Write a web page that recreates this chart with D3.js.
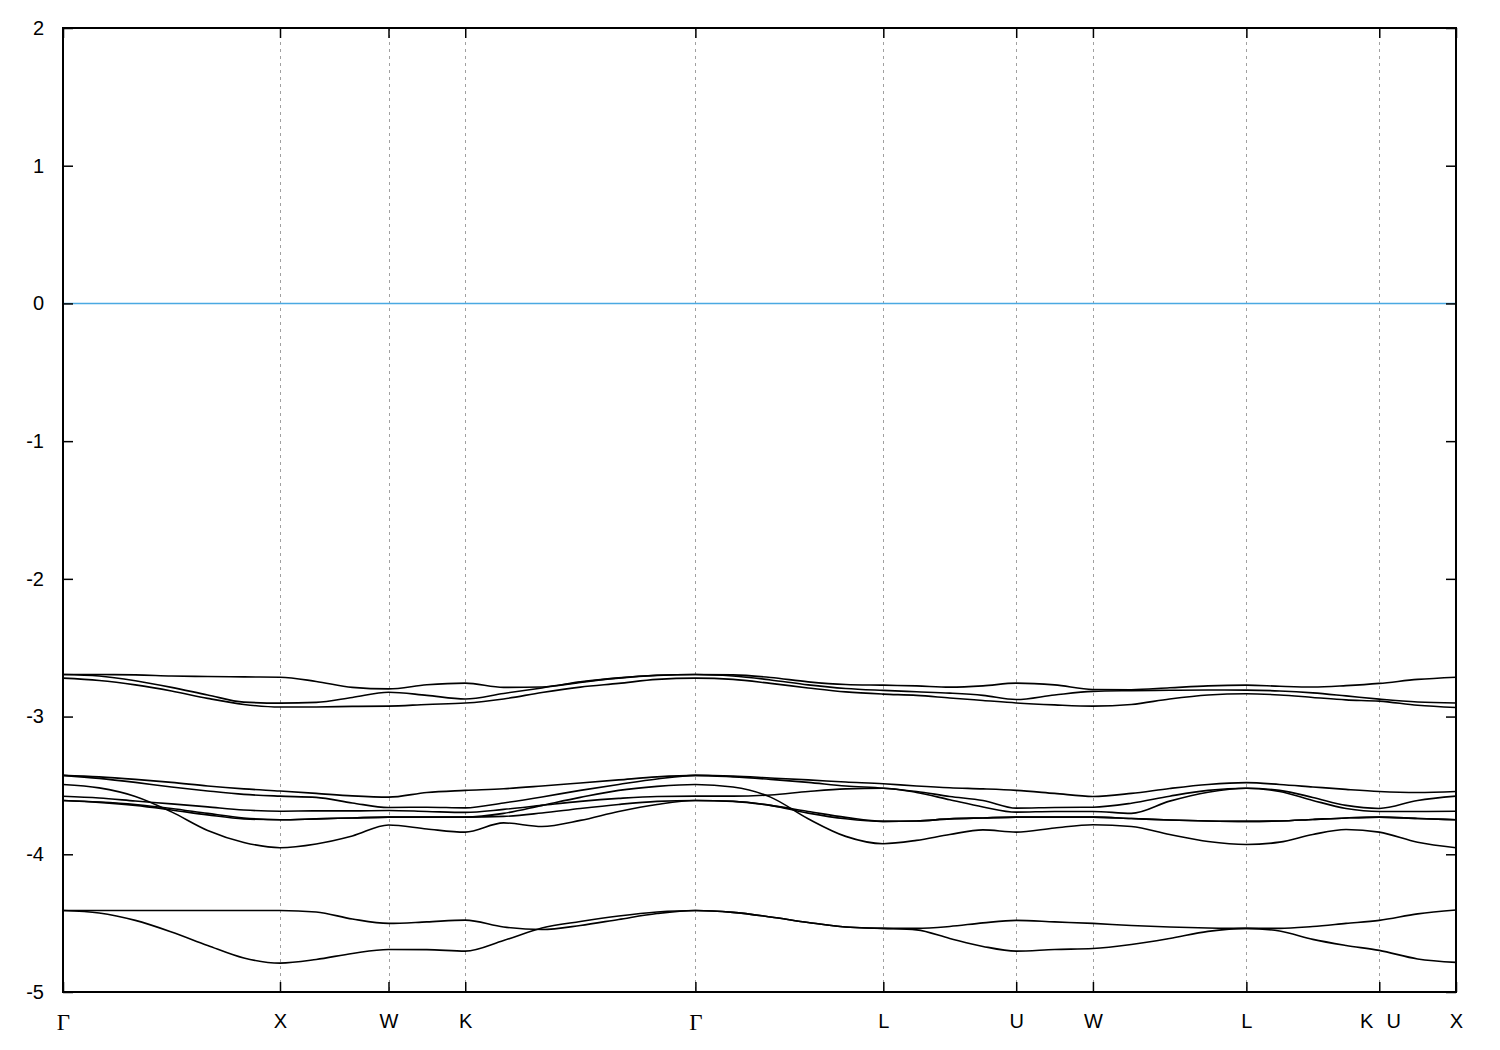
<!DOCTYPE html>
<html><head><meta charset="utf-8">
<script src="https://cdnjs.cloudflare.com/ajax/libs/d3/7.8.5/d3.min.js"></script>
<style>body{margin:0;background:#fff} svg{display:block}</style>
</head><body><svg id="c" width="1500" height="1050"></svg>
<script>
// High-symmetry path (FCC) and labels
const kPointLabels = ["Γ","X","W","K","Γ","L","U","W","L","K|U","X"];
const kPointPositions = [0, 1, 1.5, 1.8536, 2.9142, 3.7802, 4.3926, 4.7462, 5.4533, 6.0657, 6.4193];
// number of sample intervals read along each segment
const segmentSamples = [6, 3, 2, 6, 5, 4, 2, 4, 4, 2];
const yTicks = [-5, -4, -3, -2, -1, 0, 1, 2];
const fermiLevel = 0;

// Band energies (eV) read at the sample points along the path
const bandA1 = [-2.694,-2.695,-2.697,-2.705,-2.709,-2.712,-2.714, -2.745,-2.788,-2.799, -2.769,-2.757, -2.788,-2.785,-2.748,-2.719,-2.700,-2.694, -2.697,-2.716,-2.748,-2.767,-2.772, -2.777,-2.786,-2.777,-2.757, -2.770,-2.803, -2.805,-2.791,-2.777,-2.772, -2.780,-2.785,-2.775,-2.759, -2.730,-2.714];
const bandA2 = [-2.694,-2.705,-2.740,-2.788,-2.843,-2.895,-2.902, -2.897,-2.861,-2.823, -2.846,-2.872, -2.832,-2.792,-2.752,-2.721,-2.701,-2.694, -2.705,-2.734,-2.770,-2.796,-2.810, -2.820,-2.830,-2.846,-2.876, -2.843,-2.817, -2.812,-2.809,-2.807,-2.808, -2.814,-2.828,-2.850,-2.873, -2.894,-2.902];
const bandA3 = [-2.721,-2.738,-2.770,-2.814,-2.868,-2.912,-2.931, -2.930,-2.926,-2.924, -2.912,-2.902, -2.872,-2.825,-2.786,-2.759,-2.730,-2.721, -2.730,-2.759,-2.792,-2.821,-2.837, -2.846,-2.865,-2.883,-2.901, -2.915,-2.924, -2.912,-2.872,-2.843,-2.834, -2.843,-2.861,-2.879,-2.888, -2.918,-2.934];

const bandB1 = [-3.427,-3.438,-3.456,-3.478,-3.504,-3.525,-3.541, -3.558,-3.576,-3.585, -3.551,-3.536, -3.524,-3.504,-3.482,-3.460,-3.438,-3.427, -3.432,-3.446,-3.460,-3.475,-3.488, -3.504,-3.517,-3.525,-3.536, -3.558,-3.580, -3.558,-3.522,-3.493,-3.480, -3.493,-3.511,-3.529,-3.544, -3.551,-3.544];
const bandB2 = [-3.427,-3.449,-3.478,-3.511,-3.540,-3.565,-3.578, -3.587,-3.627,-3.660, -3.658,-3.663, -3.627,-3.584,-3.536,-3.493,-3.453,-3.427, -3.438,-3.456,-3.478,-3.504,-3.520, -3.544,-3.580,-3.609,-3.665, -3.660,-3.658, -3.629,-3.578,-3.536,-3.520, -3.536,-3.587,-3.645,-3.667, -3.609,-3.578];
const bandB3 = [-3.578,-3.591,-3.613,-3.634,-3.656,-3.678,-3.687, -3.685,-3.685,-3.682, -3.689,-3.696, -3.674,-3.645,-3.616,-3.594,-3.580,-3.578, -3.578,-3.569,-3.544,-3.525,-3.520, -3.551,-3.604,-3.656,-3.694, -3.689,-3.689, -3.703,-3.614,-3.549,-3.520, -3.544,-3.609,-3.667,-3.689, -3.689,-3.687];
const bandB4 = [-3.493,-3.518,-3.580,-3.692,-3.827,-3.914,-3.952, -3.925,-3.867,-3.787, -3.816,-3.839, -3.772,-3.798,-3.754,-3.689,-3.638,-3.609, -3.615,-3.645,-3.701,-3.742,-3.761, -3.758,-3.743,-3.736,-3.730, -3.730,-3.730, -3.740,-3.751,-3.758,-3.761, -3.758,-3.747,-3.736,-3.730, -3.740,-3.749];
const bandB5 = [-3.609,-3.620,-3.638,-3.667,-3.703,-3.736,-3.749, -3.743,-3.736,-3.730, -3.730,-3.730, -3.703,-3.645,-3.587,-3.536,-3.507,-3.493, -3.512,-3.585,-3.742,-3.870,-3.923, -3.899,-3.856,-3.823,-3.839, -3.809,-3.785, -3.798,-3.856,-3.907,-3.929, -3.912,-3.856,-3.820,-3.839, -3.912,-3.952];
const bandB6 = [-3.609,-3.623,-3.645,-3.678,-3.714,-3.743,-3.749, -3.743,-3.736,-3.730, -3.730,-3.730, -3.725,-3.700,-3.667,-3.638,-3.616,-3.609, -3.616,-3.645,-3.689,-3.732,-3.761, -3.758,-3.743,-3.736,-3.730, -3.730,-3.730, -3.740,-3.751,-3.758,-3.761, -3.758,-3.747,-3.736,-3.730, -3.740,-3.749];

const bandC1 = [-4.408,-4.408,-4.408,-4.408,-4.408,-4.408,-4.408, -4.419,-4.470,-4.502, -4.491,-4.478, -4.528,-4.546,-4.517,-4.473,-4.430,-4.408, -4.422,-4.455,-4.495,-4.528,-4.538, -4.538,-4.524,-4.498,-4.480, -4.491,-4.502, -4.517,-4.528,-4.535,-4.538, -4.538,-4.524,-4.502,-4.480, -4.433,-4.404];
const bandC2 = [-4.408,-4.426,-4.480,-4.564,-4.662,-4.753,-4.790, -4.764,-4.720,-4.691, -4.692,-4.703, -4.626,-4.535,-4.488,-4.448,-4.419,-4.408, -4.422,-4.455,-4.495,-4.528,-4.538, -4.549,-4.611,-4.669,-4.703, -4.691,-4.684, -4.655,-4.611,-4.560,-4.538, -4.557,-4.618,-4.662,-4.698, -4.760,-4.785];

const bands = [bandA1, bandA2, bandA3, bandB1, bandB2, bandB3, bandB4, bandB5, bandB6, bandC1, bandC2];

// k grid of the sample points
const kGrid = [kPointPositions[0]];
segmentSamples.forEach((n, i) => {
  const k0 = kPointPositions[i], k1 = kPointPositions[i + 1];
  for (let j = 1; j <= n; j++) kGrid.push(k0 + (k1 - k0) * j / n);
});

const m = {left: 63, right: 1456, top: 28, bottom: 992};
const svg = d3.select("#c");
const x = d3.scaleLinear().domain([kPointPositions[0], kPointPositions[kPointPositions.length - 1]]).range([m.left, m.right]);
const y = d3.scaleLinear().domain([-5, 2]).range([m.bottom, m.top]);
const FONT = "'Liberation Sans', Arial, Helvetica, sans-serif";

// vertical dashed grid at high-symmetry points
svg.append("g").selectAll("line").data(kPointPositions.slice(1, -1)).join("line")
  .attr("x1", d => Math.round(x(d)) + 0.5).attr("x2", d => Math.round(x(d)) + 0.5)
  .attr("y1", m.top).attr("y2", m.bottom)
  .attr("stroke", "#a0a0a0").attr("stroke-width", 1).attr("stroke-dasharray", "3,4");

// Fermi level
svg.append("line").attr("x1", m.left).attr("x2", m.right)
  .attr("y1", y(fermiLevel)).attr("y2", y(fermiLevel))
  .attr("stroke", "#4aa9e2").attr("stroke-width", 1.6);

// bands
const line = d3.line().x((d, i) => x(kGrid[i])).y(d => y(d)).curve(d3.curveMonotoneX);
svg.append("g").selectAll("path").data(bands).join("path")
  .attr("d", line).attr("fill", "none").attr("stroke", "#000").attr("stroke-width", 1.6);

// axes
const styleAxis = g => {
  g.select(".domain").remove();
  g.selectAll(".tick line").attr("stroke", "#000").attr("stroke-width", 1.5);
  g.selectAll(".tick text").attr("fill", "#000").style("font-family", FONT).style("font-size", "20px");
};
svg.append("g").attr("transform", `translate(${m.left},0)`)
  .call(d3.axisLeft(y).tickValues(yTicks).tickSize(-10).tickPadding(19).tickFormat(d => String(d)))
  .call(styleAxis);
svg.append("g").attr("transform", `translate(${m.right},0)`)
  .call(d3.axisRight(y).tickValues(yTicks).tickSize(-10).tickFormat(""))
  .call(styleAxis);
const bottomAxis = svg.append("g").attr("transform", `translate(0,${m.bottom})`)
  .call(d3.axisBottom(x).tickValues(kPointPositions).tickSize(-10).tickPadding(22).tickFormat((d, i) => kPointLabels[i]))
  .call(styleAxis);
svg.append("g").attr("transform", `translate(0,${m.top})`)
  .call(d3.axisTop(x).tickValues(kPointPositions).tickSize(-10).tickFormat(""))
  .call(styleAxis);

bottomAxis.selectAll(".tick text").each(function(d, i) {
  const t = d3.select(this);
  const lab = kPointLabels[i];
  if (lab === "Γ") t.style("font-family", "'Liberation Serif', 'DejaVu Serif', serif").style("font-size", "23px");
  if (lab.includes("|")) {
    const parts = lab.split("|");
    t.text(null);
    t.append("tspan").attr("x", -13).text(parts[0]);
    t.append("tspan").attr("x", 14).text(parts[1]);
  }
});

// frame
svg.append("rect").attr("x", m.left).attr("y", m.top)
  .attr("width", m.right - m.left).attr("height", m.bottom - m.top)
  .attr("fill", "none").attr("stroke", "#000").attr("stroke-width", 2);
</script></body></html>
